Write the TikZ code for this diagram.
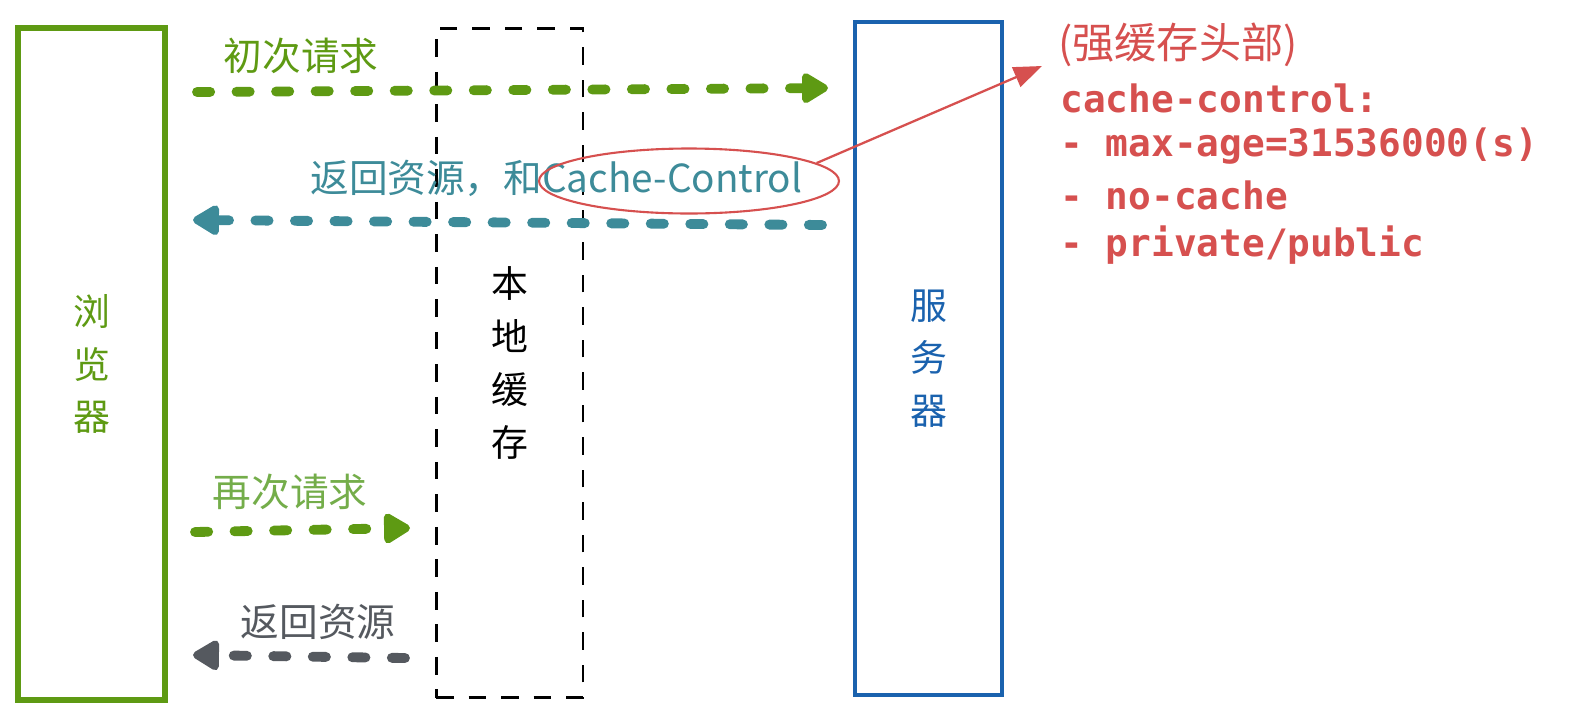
\documentclass[tikz,border=0pt]{standalone}
\usepackage{fontspec}
\setmainfont{Noto Sans CJK SC}
\setmonofont{DejaVu Sans Mono}
\newfontfamily\cjk{Noto Sans CJK SC}
\usetikzlibrary{positioning, arrows.meta, calc, shapes.geometric}
\definecolor{accG}{HTML}{5E9A13}
\definecolor{accGl}{HTML}{74AD4A}
\definecolor{accT}{HTML}{3D8B99}
\definecolor{accD}{HTML}{55595F}
\definecolor{accR}{HTML}{D6504F}
\definecolor{accB}{HTML}{1A62AE}
\tikzset{
  lane/.style    ={minimum width=2.94cm, align=center,
                   font=\fontsize{21}{30}\selectfont},
  flow/.style    ={line width=5.6pt, line cap=round,
                   dash pattern=on 7.5pt off 15pt,
                   -{Triangle[length=17pt, width=19pt, round]}},
  flowlbl/.style ={font=\fontsize{22}{26}\selectfont, inner sep=0pt},
  hdr/.style     ={font=\fontsize{21.5}{26}\selectfont\ttfamily\bfseries,
                   text=accR, anchor=west, inner sep=0pt},
}

\begin{document}
\begin{tikzpicture}[x=0.02cm, y=-0.02cm]
\useasboundingbox (0,0) rectangle (1577,724);

% three lanes
\node[lane, draw=accG, line width=3pt, minimum height=13.44cm, text=accG]
  (browser) at (91.5,364) {浏\\览\\器};
\node[lane, draw=black, line width=1.7pt, dash pattern=on 10pt off 8.5pt,
      minimum height=13.4cm] (cache) at (509.5,363) {本\\地\\缓\\存};
\node[lane, draw=accB, line width=2.4pt, minimum height=13.46cm, text=accB]
  (server) at (928.5,358.5) {服\\务\\器};

% arrow ends
\coordinate (r1s) at (197,92);
\coordinate (r1e) at (828,88);
\coordinate (b1s) at (822,225);
\coordinate (b1e) at (193,220);
\coordinate (r2s) at (195,532);
\coordinate (r2e) at (410,528);
\coordinate (b2s) at (405,658);
\coordinate (b2e) at (193,655);

\draw[flow, accG] (r1s) -- (r1e);
\node[flowlbl, text=accG] (lblA) at (301,56) {初次请求};

\draw[flow, accT] (b1s) -- (b1e);
\node[flowlbl, text=accT, anchor=west] (lblB) at (310,178)
  {返回资源，和Cache-Control};

\draw[flow, accG] (r2s) -- (r2e);
\node[flowlbl, text=accGl] (lblC) at (290,492) {再次请求};

\draw[flow, accD] (b2s) -- (b2e);
\node[flowlbl, text=accD] (lblD) at (318,622) {返回资源};

% strong cache headers
\node[draw=accR, line width=1.2pt, ellipse, minimum width=6cm,
      minimum height=1.3cm] (ring) at (689,181) {};
\node[hdr, font=\fontsize{24}{28}\selectfont\cjk] (h0) at (1058,45)
  {(强缓存头部)};
\node[hdr] (h1) at (1060,98) {cache-control:};
\node[hdr] (h2) at (1060,146) {- max-age=31536000(s)};
\node[hdr] (h3) at (1060,195) {- no-cache};
\node[hdr] (h4) at (1060,245) {- private/public};
\coordinate (tipR) at (1042,66);
\draw[accR, line width=1.3pt, -{Triangle[length=16pt, width=12pt]}]
  (ring.8) -- (tipR);

\end{tikzpicture}
\end{document}
